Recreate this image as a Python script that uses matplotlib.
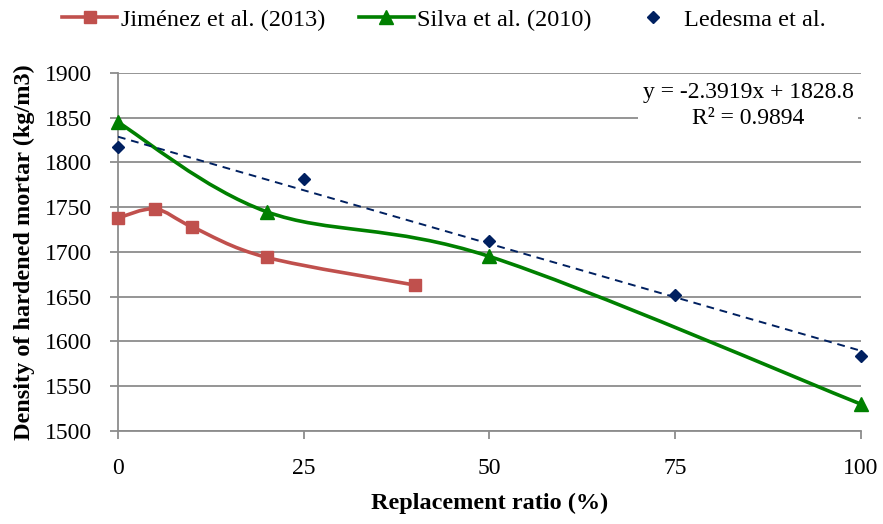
import numpy as np
import matplotlib
matplotlib.use("Agg")
import matplotlib.pyplot as plt
from matplotlib.path import Path
from matplotlib.patches import PathPatch
from matplotlib.lines import Line2D

plt.rcParams["font.family"] = ["Liberation Serif", "DejaVu Serif"]

# --- data ---
jimenez_x = [0, 5, 10, 20, 40]
jimenez_y = [1738, 1748, 1728, 1694, 1663]
silva_x = [0, 20, 50, 100]
silva_y = [1845, 1745, 1695, 1530]
ledesma_x = [0, 25, 50, 75, 100]
ledesma_y = [1817, 1782, 1712, 1652, 1584]
trend_slope = -2.3919
trend_icpt = 1828.8
trend_r2 = 0.9894

red = "#C0504D"
green = "#008000"
navy = "#002060"
grid_col = "#8C8C8C"


def smooth_path(xs, ys):
    # Excel-like smoothed line: cubic Bezier segments with Catmull-Rom control points
    pts = np.column_stack([xs, ys]).astype(float)
    n = len(pts)
    verts = [pts[0]]
    codes = [Path.MOVETO]
    for i in range(n - 1):
        p0 = pts[i - 1] if i > 0 else pts[i]
        p1 = pts[i]
        p2 = pts[i + 1]
        p3 = pts[i + 2] if i + 2 < n else pts[i + 1]
        c1 = p1 + (p2 - p0) / 6.0
        c2 = p2 - (p3 - p1) / 6.0
        verts += [c1, c2, p2]
        codes += [Path.CURVE4] * 3
    return Path(verts, codes)


fig = plt.figure(figsize=(8.83, 5.24), dpi=100)
ax = fig.add_axes([0.1336, 0.1775, 0.975 - 0.1336, 0.8607 - 0.1775])

ax.set_xlim(0, 100)
ax.set_ylim(1500, 1900)
ax.set_yticks(np.arange(1500, 1901, 50))
ax.set_xticks([0, 25, 50, 75, 100])

ax.yaxis.grid(True, color=grid_col, linewidth=1.3)
ax.set_axisbelow(True)
for s in ["top", "right"]:
    ax.spines[s].set_visible(False)
for s in ["left", "bottom"]:
    ax.spines[s].set_color(grid_col)
    ax.spines[s].set_linewidth(1.3)
ax.tick_params(axis="both", colors=grid_col, labelcolor="black", labelsize=17,
               length=5.5, width=1.3, direction="out")
ax.tick_params(axis="y", pad=13.5)
ax.tick_params(axis="x", pad=14)

# smoothed series lines
ax.add_patch(PathPatch(smooth_path(jimenez_x, jimenez_y), facecolor="none",
                       edgecolor=red, linewidth=2.6, zorder=3))
ax.add_patch(PathPatch(smooth_path(silva_x, silva_y), facecolor="none",
                       edgecolor=green, linewidth=2.6, zorder=3))
ax.plot(jimenez_x, jimenez_y, linestyle="none", marker="s", markersize=9,
        color=red, zorder=4, clip_on=False)
ax.plot(silva_x, silva_y, linestyle="none", marker="^", markersize=9.5,
        color=green, zorder=4, clip_on=False)
ax.plot(ledesma_x, ledesma_y, linestyle="none", marker="D", markersize=6.2,
        color=navy, zorder=4, clip_on=False)

# linear trendline
tx = np.array([0, 100])
ax.plot(tx, trend_slope * tx + trend_icpt, linestyle=(0, (4, 3)), color=navy,
        linewidth=1.4, zorder=3)
ax.text(0.99, 0.975, f"y = {trend_slope}x + {trend_icpt}\nR² = {trend_r2}",
        transform=ax.transAxes, ha="right", va="top", fontsize=17, linespacing=1.32,
        multialignment="center",
        bbox=dict(facecolor="white", edgecolor="none", pad=3), zorder=5)

ax.set_xlabel("Replacement ratio (%)", fontsize=17.5, fontweight="bold", labelpad=10)
ax.set_ylabel("Density of hardened mortar (kg/m3)", fontsize=17.5, fontweight="bold",
              labelpad=7)

handles = [
    Line2D([], [], color=red, linewidth=2.6, marker="s", markersize=9),
    Line2D([], [], color=green, linewidth=2.6, marker="^", markersize=9.5),
    Line2D([], [], color=navy, linestyle="none", marker="D", markersize=6.2),
]
fig.legend(handles, ["Jiménez et al. (2013)", "Silva et al. (2010)", "Ledesma et al."],
           loc="upper center", bbox_to_anchor=(0.503, 1.025), ncol=3, frameon=False,
           fontsize=17.5, handlelength=2.25, handletextpad=0.15, columnspacing=1.4)

fig.savefig("out.png", dpi=100)
